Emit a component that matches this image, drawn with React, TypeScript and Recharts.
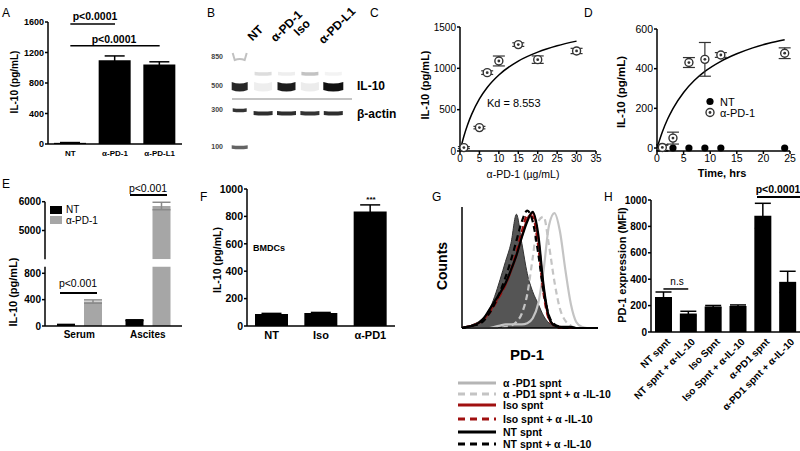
import React from "react";
import {
  BarChart,
  Bar,
  XAxis,
  YAxis,
  ErrorBar,
  ReferenceLine,
  ComposedChart,
  Line,
  Scatter,
  Area,
  ScatterChart,
} from "recharts";

const FONT = '"Liberation Sans", Arial, Helvetica, sans-serif';

// A - IL-10 after blockade
const aGroups = ["NT", "α-PD-1", "α-PD-L1"];
const aMean = [15, 1100, 1043];
const aErr = [4, 55, 35];

// B - western blot (migration distance in mm, band intensity 0..1)
const ladderMW = [850, 500, 300, 100];
const ladderDist = [5.7, 8.6, 11.0, 14.7];
const ladderInt = [0.3, 0.9, 0.85, 0.65];
const blotLanes = ["NT", "α-PD-1", "Iso", "α-PD-L1"];
const il10Dist = 8.6;
const il10Int = [0.07, 0.95, 0.08, 1.0];
const upperDist = 7.35;
const upperInt = [0.14, 0.07, 0.25, 0.05];
const actinDist = 11.3;
const actinInt = [0.88, 0.88, 0.85, 0.88];

// C - dose response
const cDose = [1, 5, 7, 10, 15, 20, 30];
const cIL10 = [41, 283, 948, 1089, 1287, 1105, 1210];
const cErr = [12, 15, 22, 60, 22, 45, 32];
const cFitDose = [0, 1, 2, 3, 5, 7, 10, 15, 20, 25, 30];
const cFitIL10 = [0, 179, 324, 443, 631, 769, 920, 1088, 1196, 1273, 1329];

// D - time course
const dTime = [1, 3, 6, 9, 12, 24];
const dNT = [0, 0, 0, 0, 0, 0];
const dNTErr = [15, 0, 0, 0, 0, 0];
const dPD1 = [3, 50, 431, 447, 469, 478];
const dPD1Err = [15, 30, 25, 85, 12, 27];
const dFitTime = [0, 1, 2, 3, 5, 7, 9, 12, 15, 18, 21, 24];
const dFitIL10 = [0, 81, 146, 199, 280, 340, 386, 437, 475, 505, 528, 546];

// E - in vivo
const eSites = ["Serum", "Ascites"];
const eNT = [20, 88];
const eNTErr = [4, 6];
const ePD1 = [371, 5850];
const ePD1Err = [25, 130];

// F - BMDCs
const fGroups = ["NT", "Iso", "α-PD1"];
const fMean = [87, 94, 836];
const fErr = [5, 5, 48];

// G - PD-1 histograms (% of mode)
const gBins = [0, 4, 8, 12, 16, 20, 24, 28, 32, 36, 40, 44, 48, 52, 56, 60, 64, 68, 72, 76, 80, 84, 88, 92, 96, 100];
const gCtrl = [0, 1, 3, 5, 9, 15, 26, 40, 55, 70, 94, 70, 45, 30, 20, 10, 4, 1, 0, 0, 0, 0, 0, 0, 0, 0];
const gPD1 = [0, 0, 0, 0, 0, 0, 1, 2, 3, 3, 3, 3, 4, 8, 20, 48, 85, 95, 80, 48, 20, 5, 1, 0, 0, 0];
const gPD1a = [0, 0, 0, 0, 0, 0, 0, 0, 1, 2, 5, 12, 28, 58, 88, 92, 68, 38, 16, 6, 2, 0, 0, 0, 0, 0];
const gIso = [0, 1, 2, 4, 7, 13, 20, 28, 36, 47, 60, 76, 90, 95, 74, 32, 8, 2, 1, 0, 0, 0, 0, 0, 0, 0];
const gIsoa = [0, 1, 2, 4, 7, 12, 19, 27, 36, 48, 63, 80, 93, 92, 68, 28, 7, 2, 0, 0, 0, 0, 0, 0, 0, 0];
const gNT = [0, 1, 2, 4, 8, 15, 22, 29, 37, 48, 60, 75, 88, 96, 78, 35, 9, 2, 1, 1, 1, 0, 0, 0, 0, 0];
const gNTa = [0, 1, 2, 3, 6, 12, 20, 30, 42, 56, 72, 88, 97, 88, 62, 30, 10, 3, 1, 0, 0, 0, 0, 0, 0, 0];
const gLegend = [
  "α -PD1 spnt",
  "α -PD1 spnt +  α -IL-10",
  "Iso spnt",
  "Iso spnt +  α -IL-10",
  "NT spnt",
  "NT spnt +  α -IL-10",
];

// H - PD-1 MFI
const hGroups = [
  "NT spnt",
  "NT spnt + α-IL-10",
  "Iso Spnt",
  "Iso Spnt + α-IL-10",
  "α-PD1 spnt",
  "α-PD1 spnt + α-IL-10",
];
const hMean = [265, 140, 193, 197, 880, 380];
const hErr = [38, 17, 8, 8, 95, 80];

const axis = { stroke: "#000", strokeWidth: 1.5 };

function Txt({ x, y, children, size = 11, bold = true, rot = 0, align = "center", color = "#000" }: any) {
  const tx = align === "center" ? "-50%" : align === "right" ? "-100%" : "0";
  return (
    <div
      style={{
        position: "absolute",
        left: x,
        top: y,
        transform: `translate(${tx}, -50%) rotate(${rot}deg)`,
        fontSize: size,
        fontWeight: bold ? 700 : 400,
        whiteSpace: "nowrap",
        lineHeight: 1,
        color,
        fontFamily: FONT,
      }}
    >
      {children}
    </div>
  );
}

function HLine({ x1, x2, y, color = "#000", h = 1.5 }: any) {
  return <div style={{ position: "absolute", left: x1, top: y - h / 2, width: x2 - x1, height: h, background: color }} />;
}

function Box({ x, y, children }: any) {
  return <div style={{ position: "absolute", left: x, top: y }}>{children}</div>;
}

const OpenDot = (p: any) => (
  <g>
    <circle cx={p.cx} cy={p.cy} r={4} fill="#fff" stroke="#333" strokeWidth={1.4} />
    <circle cx={p.cx} cy={p.cy} r={1.4} fill="#333" />
  </g>
);
const FilledDot = (p: any) => <circle cx={p.cx} cy={p.cy} r={3.6} fill="#000" />;

const Band = (p: any) => {
  const { cx, cy, payload } = p;
  const k = payload.kind;
  if (k === "ladder" && payload.mw === 850) {
    const x0 = cx - 7;
    const x1 = cx + 7;
    return (
      <path
        d={`M${x0},${cy - 4} L${x0 + 2},${cy + 3} Q${cx},${cy + 1} ${x1 - 2},${cy + 3} L${x1},${cy - 4}`}
        fill="none"
        stroke="#333"
        strokeOpacity={payload.int}
        strokeWidth={2}
        style={{ filter: "blur(0.5px)" }}
      />
    );
  }
  let w = 19;
  let h = 4;
  if (k === "il10") { w = payload.lane === 4 ? 20 : 18; h = 8; }
  if (k === "upper") { w = 17; h = 3.5; }
  if (k === "ladder") { w = payload.mw === 300 ? 14 : 16; h = payload.mw === 500 ? 8 : 3.5; }
  const x0 = cx - w / 2;
  const x1 = cx + w / 2;
  const y0 = cy - h / 2;
  const y1 = cy + h / 2;
  const s = k === "il10" || (k === "ladder" && payload.mw === 500) ? 3 : 1;
  return (
    <path
      d={`M${x0},${y0} Q${cx},${y0 + s} ${x1},${y0} L${x1},${y1} Q${cx},${y1 + s} ${x0},${y1} Z`}
      fill="#111"
      fillOpacity={payload.int}
      style={{ filter: "blur(0.6px)" }}
    />
  );
};

const HTick = ({ x, y, payload }: any) => {
  const px = x + 5;
  const py = y + 2;
  return (
    <text
      x={px}
      y={py}
      transform={`rotate(-45 ${px} ${py})`}
      textAnchor="end"
      dy="0.35em"
      fontSize={10}
      fontWeight={700}
      fontFamily={FONT}
      fill="#000"
    >
      {payload.value}
    </text>
  );
};

export default function App() {
  const aData = aGroups.map((g, i) => ({ g, v: aMean[i], e: aErr[i] }));

  const bands: any[] = [];
  ladderMW.forEach((mw, i) => bands.push({ lane: 0, d: ladderDist[i], int: ladderInt[i], kind: "ladder", mw }));
  blotLanes.forEach((_, i) => {
    bands.push({ lane: i + 1, d: il10Dist, int: il10Int[i], kind: "il10" });
    bands.push({ lane: i + 1, d: upperDist, int: upperInt[i], kind: "upper" });
    bands.push({ lane: i + 1, d: actinDist, int: actinInt[i], kind: "actin" });
  });

  const cPts = cDose.map((x, i) => ({ x, y: cIL10[i], e: cErr[i] }));
  const cFit = cFitDose.map((x, i) => ({ x, y: cFitIL10[i] }));
  const dNTPts = dTime.map((x, i) => ({ x, y: dNT[i], e: dNTErr[i] }));
  const dPD1Pts = dTime.map((x, i) => ({ x, y: dPD1[i], e: dPD1Err[i] }));
  const dFit = dFitTime.map((x, i) => ({ x, y: dFitIL10[i] }));

  const eData = eSites.map((s, i) => ({ s, nt: eNT[i], ntE: eNTErr[i], pd1: ePD1[i], pd1E: ePD1Err[i] }));
  const eUpper = eSites.map((s, i) => ({
    s,
    nt: eNT[i] > 4000 ? eNT[i] : null,
    pd1: ePD1[i] > 4000 ? ePD1[i] : null,
    pd1E: ePD1Err[i],
  }));

  const fData = fGroups.map((g, i) => ({ g, v: fMean[i], e: fErr[i] }));
  const gData = gBins.map((x, i) => ({
    x,
    ctrl: gCtrl[i],
    pd1: gPD1[i],
    pd1a: gPD1a[i],
    iso: gIso[i],
    isoa: gIsoa[i],
    nt: gNT[i],
    nta: gNTa[i],
  }));
  const hData = hGroups.map((g, i) => ({ g, v: hMean[i], e: hErr[i] }));

  const boldTick = (size: number) => ({ fontSize: size, fontWeight: 700, fill: "#000", fontFamily: FONT });
  const plainTick = (size: number) => ({ fontSize: size, fill: "#000", fontFamily: FONT });

  const gLines = [
    { k: "pd1", c: "#c4c4c4", dash: undefined },
    { k: "pd1a", c: "#c4c4c4", dash: "6 4" },
    { k: "iso", c: "#8b1a1a", dash: undefined },
    { k: "isoa", c: "#a01010", dash: "6 4" },
    { k: "nta", c: "#000", dash: "6 4" },
    { k: "nt", c: "#000", dash: undefined },
  ];

  return (
    <div style={{ position: "absolute", left: 0, top: 0, width: 800, height: 451, background: "#fff", fontFamily: FONT, overflow: "hidden" }}>
      {/* A */}
      <Txt x={2} y={13} size={12} bold={false} align="left">A</Txt>
      <Box x={0} y={0}>
        <BarChart width={185} height={165} data={aData} margin={{ top: 22, right: 3, left: 0, bottom: 0 }}>
          <XAxis dataKey="g" height={21} tickLine={false} tickSize={4} axisLine={axis} tick={boldTick(8)} interval={0} />
          <YAxis width={48} domain={[0, 1600]} ticks={[0, 400, 800, 1200, 1600]} tickSize={3} tickMargin={1} axisLine={axis} tickLine={axis} tick={boldTick(9)} interval={0} />
          <Bar dataKey="v" fill="#000" barSize={32} isAnimationActive={false}>
            <ErrorBar dataKey="e" width={10} stroke="#000" strokeWidth={1.5} />
          </Bar>
          <ReferenceLine segment={[{ x: "NT", y: 1575 }, { x: "α-PD-1", y: 1575 }]} stroke="#000" strokeWidth={1.5} />
          <ReferenceLine segment={[{ x: "NT", y: 1290 }, { x: "α-PD-L1", y: 1290 }]} stroke="#000" strokeWidth={1.5} />
        </BarChart>
      </Box>
      <Txt x={95} y={16} size={10.5}>p&lt;0.0001</Txt>
      <Txt x={114} y={39} size={10.5}>p&lt;0.0001</Txt>
      <Txt x={15} y={82} size={10} rot={-90}>IL-10 (pg/mL)</Txt>

      {/* B */}
      <Txt x={207} y={13} size={12} bold={false} align="left">B</Txt>
      <Box x={200} y={0}>
        <ScatterChart width={145} height={160} margin={{ top: 0, right: 0, left: 0, bottom: 0 }}>
          <XAxis type="number" dataKey="lane" domain={[-0.5, 4.5]} hide height={0} />
          <YAxis
            type="number"
            dataKey="d"
            domain={[0, 16]}
            reversed
            width={28}
            ticks={ladderDist}
            tickFormatter={(v: number) => String(ladderMW[ladderDist.indexOf(v)] ?? "")}
            axisLine={false}
            tickLine={false}
            tickSize={0}
            tickMargin={5}
            tick={{ fontSize: 7, fontWeight: 700, fill: "#444", fontFamily: FONT }}
            interval={0}
          />
          <Scatter data={bands} shape={Band} isAnimationActive={false} />
        </ScatterChart>
      </Box>
      <HLine x1={232} x2={352} y={99} color="#c4c4c4" h={1.5} />
      {blotLanes.map((l, i) => {
        const pos = [[254, 43], [277, 44], [300, 38], [325, 46]][i];
        return (
          <div
            key={l}
            style={{
              position: "absolute",
              left: pos[0],
              top: pos[1] - 12,
              fontSize: 12,
              lineHeight: "12px",
              fontWeight: 700,
              whiteSpace: "nowrap",
              transformOrigin: "0 100%",
              transform: "rotate(-45deg)",
            }}
          >
            {l}
          </div>
        );
      })}
      <Txt x={357} y={86} size={12} align="left">IL-10</Txt>
      <Txt x={357} y={114} size={12} align="left">β-actin</Txt>

      {/* C */}
      <Txt x={370} y={13} size={12} bold={false} align="left">C</Txt>
      <Box x={360} y={0}>
        <ComposedChart width={252} height={195} margin={{ top: 27, right: 16, left: 0, bottom: 24 }}>
          <XAxis type="number" dataKey="x" domain={[0, 35]} ticks={[0, 5, 10, 15, 20, 25, 30, 35]} height={20} tickSize={3} tickMargin={1} axisLine={axis} tickLine={axis} tick={plainTick(10)} interval={0} />
          <YAxis type="number" domain={[0, 1500]} ticks={[0, 500, 1000, 1500]} width={100} tickSize={3} tickMargin={1} axisLine={axis} tickLine={axis} tick={plainTick(10)} interval={0} />
          <Line data={cFit} dataKey="y" type="monotone" stroke="#000" strokeWidth={1.5} dot={false} isAnimationActive={false} />
          <Scatter data={cPts} dataKey="y" shape={OpenDot} isAnimationActive={false}>
            <ErrorBar dataKey="e" direction="y" width={6} stroke="#333" strokeWidth={1.2} />
          </Scatter>
        </ComposedChart>
      </Box>
      <Txt x={487} y={103} size={11} bold={false} align="left">Kd = 8.553</Txt>
      <Txt x={523} y={174} size={10.5} bold={false}>α-PD-1 (µg/mL)</Txt>
      <Txt x={425} y={85} size={11} rot={-90}>IL-10 (pg/mL)</Txt>

      {/* D */}
      <Txt x={584} y={13} size={12} bold={false} align="left">D</Txt>
      <Box x={580} y={0}>
        <ComposedChart width={220} height={195} margin={{ top: 29, right: 10, left: 0, bottom: 24 }}>
          <XAxis type="number" dataKey="x" domain={[0, 25]} ticks={[0, 5, 10, 15, 20, 25]} height={20} tickSize={3} tickMargin={1} axisLine={axis} tickLine={axis} tick={plainTick(10.5)} interval={0} />
          <YAxis type="number" domain={[0, 600]} ticks={[0, 200, 400, 600]} width={77} tickSize={3} tickMargin={1} axisLine={axis} tickLine={axis} tick={plainTick(10.5)} interval={0} />
          <Line data={dFit} dataKey="y" type="monotone" stroke="#000" strokeWidth={1.5} dot={false} isAnimationActive={false} />
          <Scatter data={dNTPts} dataKey="y" shape={FilledDot} isAnimationActive={false}>
            <ErrorBar dataKey="e" direction="y" width={6} stroke="#000" strokeWidth={1.2} />
          </Scatter>
          <Scatter data={dPD1Pts} dataKey="y" shape={OpenDot} isAnimationActive={false}>
            <ErrorBar dataKey="e" direction="y" width={6} stroke="#333" strokeWidth={1.2} />
          </Scatter>
        </ComposedChart>
      </Box>
      <svg style={{ position: "absolute", left: 704, top: 96 }} width={14} height={22}>
        <circle cx={6} cy={5.5} r={3.6} fill="#000" />
        <circle cx={6} cy={16.5} r={4} fill="#fff" stroke="#333" strokeWidth={1.4} />
        <circle cx={6} cy={16.5} r={1.4} fill="#333" />
      </svg>
      <Txt x={720} y={102} size={11} bold={false} align="left">NT</Txt>
      <Txt x={720} y={113} size={11} bold={false} align="left">α-PD-1</Txt>
      <Txt x={722} y={173} size={11}>Time, hrs</Txt>
      <Txt x={622} y={92} size={11.5} rot={-90}>IL-10 (pg/mL)</Txt>

      {/* E */}
      <Txt x={2} y={184} size={12} bold={false} align="left">E</Txt>
      <Box x={0} y={190}>
        <BarChart width={182} height={75} data={eUpper} margin={{ top: 11.7, right: 0, left: 0, bottom: 5.7 }} barGap={9}>
          <XAxis dataKey="s" hide />
          <YAxis width={45} domain={[4000, 6000]} ticks={[5000, 6000]} allowDataOverflow tickSize={3} tickMargin={1} axisLine={axis} tickLine={axis} tick={boldTick(10)} interval={0} />
          <Bar dataKey="nt" fill="#000" barSize={18} isAnimationActive={false} />
          <Bar dataKey="pd1" fill="#a6a6a6" barSize={18} isAnimationActive={false}>
            <ErrorBar dataKey="pd1E" width={9} stroke="#8a8a8a" strokeWidth={1.5} />
          </Bar>
        </BarChart>
      </Box>
      <Box x={0} y={260}>
        <BarChart width={182} height={86} data={eData} margin={{ top: 6.7, right: 0, left: 0, bottom: 0 }} barGap={9}>
          <XAxis dataKey="s" height={20} tickLine={false} tickSize={3} axisLine={axis} tick={boldTick(10)} interval={0} />
          <YAxis width={45} domain={[0, 900]} ticks={[0, 400, 800]} allowDataOverflow tickSize={3} tickMargin={1} axisLine={axis} tickLine={axis} tick={boldTick(10)} interval={0} />
          <Bar dataKey="nt" fill="#000" barSize={18} isAnimationActive={false}>
            <ErrorBar dataKey="ntE" width={9} stroke="#000" strokeWidth={1.5} />
          </Bar>
          <Bar dataKey="pd1" fill="#a6a6a6" barSize={18} isAnimationActive={false}>
            <ErrorBar dataKey="pd1E" width={9} stroke="#8a8a8a" strokeWidth={1.5} />
          </Bar>
        </BarChart>
      </Box>
      <div style={{ position: "absolute", left: 50, top: 206, width: 12, height: 8, background: "#000" }} />
      <div style={{ position: "absolute", left: 50, top: 216, width: 12, height: 8, background: "#a6a6a6" }} />
      <Txt x={66} y={210} size={10} bold={false} align="left">NT</Txt>
      <Txt x={66} y={220.5} size={10} bold={false} align="left">α-PD-1</Txt>
      <HLine x1={60} x2={97} y={293} />
      <Txt x={78} y={283} size={10.5} bold={false}>p&lt;0.001</Txt>
      <HLine x1={130} x2={167} y={195} />
      <Txt x={148} y={188} size={10.5} bold={false}>p&lt;0.001</Txt>
      <Txt x={13} y={292} size={11} rot={-90}>IL-10 (pg/mL)</Txt>

      {/* F */}
      <Txt x={200} y={197} size={12} bold={false} align="left">F</Txt>
      <Box x={200} y={180}>
        <BarChart width={197} height={166} data={fData} margin={{ top: 9, right: 2, left: 0, bottom: 0 }}>
          <XAxis dataKey="g" height={20} tickLine={false} tickSize={3} axisLine={axis} tick={boldTick(11)} interval={0} />
          <YAxis width={47} domain={[0, 1000]} ticks={[0, 200, 400, 600, 800, 1000]} tickSize={3} tickMargin={1} axisLine={axis} tickLine={axis} tick={boldTick(10.5)} interval={0} />
          <Bar dataKey="v" fill="#000" barSize={33} isAnimationActive={false}>
            <ErrorBar dataKey="e" width={10} stroke="#000" strokeWidth={1.5} />
          </Bar>
        </BarChart>
      </Box>
      <Txt x={371} y={200} size={8}>***</Txt>
      <Txt x={253} y={248} size={9} align="left">BMDCs</Txt>
      <Txt x={217} y={260} size={10.5} rot={-90}>IL-10 (pg/mL)</Txt>

      {/* G */}
      <Txt x={432} y={197} size={12} bold={false} align="left">G</Txt>
      <Box x={455} y={200}>
        <ComposedChart width={148} height={135} data={gData} margin={{ top: 7, right: 5, left: 0, bottom: 0 }}>
          <XAxis type="number" dataKey="x" domain={[0, 100]} tick={false} tickLine={false} height={7} axisLine={axis} />
          <YAxis type="number" domain={[0, 100]} tick={false} tickLine={false} width={7} axisLine={axis} />
          <Area dataKey="ctrl" type="monotone" fill="#555" fillOpacity={1} stroke="#333" strokeWidth={1} isAnimationActive={false} />
          {gLines.map((s) => (
            <Line
              key={s.k}
              dataKey={s.k}
              type="monotone"
              stroke={s.c}
              strokeWidth={2.2}
              strokeDasharray={s.dash}
              dot={false}
              isAnimationActive={false}
            />
          ))}
        </ComposedChart>
      </Box>
      <Txt x={442} y={266} size={14} rot={-90}>Counts</Txt>
      <Txt x={527} y={354} size={15}>PD-1</Txt>
      {gLegend.map((t, i) => {
        const ys = [383, 394, 404.5, 419, 431.5, 444];
        const cols = ["#b5b5b5", "#c4c4c4", "#a01010", "#a01010", "#000", "#000"];
        const dashed = i % 2 === 1;
        return (
          <React.Fragment key={t}>
            <svg style={{ position: "absolute", left: 458, top: ys[i] - 2 }} width={38} height={4}>
              <line x1={0} y1={2} x2={38} y2={2} stroke={cols[i]} strokeWidth={3} strokeDasharray={dashed ? "7 5" : undefined} />
            </svg>
            <Txt x={503} y={ys[i]} size={10.5} align="left">{t}</Txt>
          </React.Fragment>
        );
      })}

      {/* H */}
      <Txt x={604} y={197} size={12} bold={false} align="left">H</Txt>
      <Box x={560} y={185}>
        <BarChart width={240} height={240} data={hData} margin={{ top: 15, right: 0, left: 0, bottom: 0 }}>
          <XAxis dataKey="g" height={93} tickLine={false} tickSize={4} axisLine={axis} tick={HTick} interval={0} />
          <YAxis width={91} domain={[0, 1000]} ticks={[0, 200, 400, 600, 800, 1000]} tickSize={3} tickMargin={1} axisLine={axis} tickLine={axis} tick={boldTick(10)} interval={0} />
          <Bar dataKey="v" fill="#000" barSize={17} isAnimationActive={false}>
            <ErrorBar dataKey="e" width={8} stroke="#000" strokeWidth={1.5} />
          </Bar>
          <ReferenceLine segment={[{ x: hGroups[0], y: 326 }, { x: hGroups[1], y: 326 }]} stroke="#000" strokeWidth={1.5} />
        </BarChart>
      </Box>
      <Txt x={677} y={282} size={10} bold={false}>n.s</Txt>
      <HLine x1={757} x2={800} y={197} />
      <Txt x={778} y={189} size={10.5}>p&lt;0.0001</Txt>
      <Txt x={622} y={265} size={11} rot={-90}>PD-1 expression (MFI)</Txt>
    </div>
  );
}
